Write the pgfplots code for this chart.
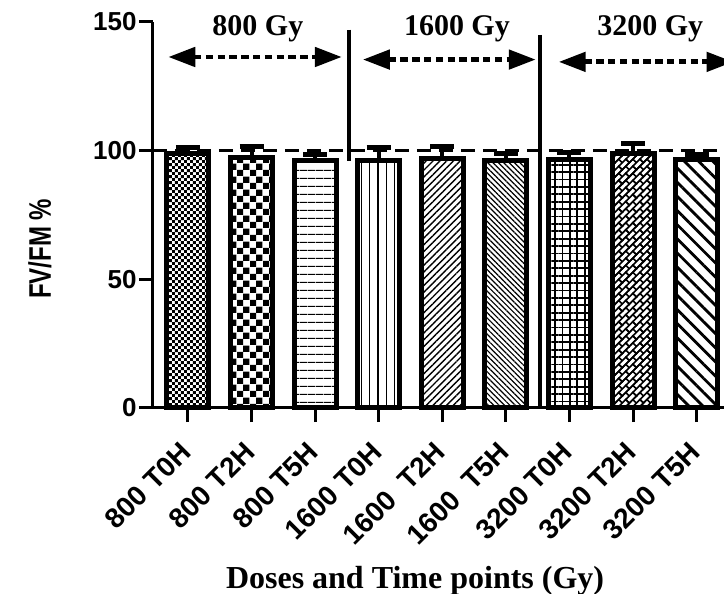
\documentclass[border=0pt]{standalone}
\usepackage{fontspec}
\setmainfont{Liberation Serif}
\newfontfamily\arial{Liberation Sans}
\usepackage{graphicx}
\usepackage{pgfplots}
\pgfplotsset{compat=1.18}
\usetikzlibrary{patterns,patterns.meta,arrows.meta}

\pgfdeclarepatternformonly{finechecker}{\pgfpointorigin}{\pgfqpoint{3.2pt}{3.2pt}}{\pgfqpoint{3.2pt}{3.2pt}}{%
  \pgfpathrectangle{\pgfpointorigin}{\pgfqpoint{1.6pt}{1.6pt}}%
  \pgfpathrectangle{\pgfqpoint{1.6pt}{1.6pt}}{\pgfqpoint{1.6pt}{1.6pt}}%
  \pgfusepath{fill}}
\pgfdeclarepatternformonly{coarsechecker}{\pgfpointorigin}{\pgfqpoint{6.6pt}{6.6pt}}{\pgfqpoint{6.6pt}{6.6pt}}{%
  \pgfpathrectangle{\pgfpointorigin}{\pgfqpoint{3.3pt}{3.3pt}}%
  \pgfpathrectangle{\pgfqpoint{3.3pt}{3.3pt}}{\pgfqpoint{3.3pt}{3.3pt}}%
  \pgfusepath{fill}}
\pgfdeclarepattern{
  name=diagbricks,
  type=uncolored,
  bottom left={\pgfpoint{-0.5pt}{-0.5pt}},
  top right={\pgfpoint{5.5pt}{5.5pt}},
  tile size={\pgfpoint{5pt}{5pt}},
  tile transformation={\pgftransformrotate{45}},
  code={
    \pgfsetlinewidth{0.8pt}
    \pgfpathmoveto{\pgfpoint{-0.5pt}{0pt}}\pgfpathlineto{\pgfpoint{5.5pt}{0pt}}
    \pgfpathmoveto{\pgfpoint{-0.5pt}{2.5pt}}\pgfpathlineto{\pgfpoint{5.5pt}{2.5pt}}
    \pgfpathmoveto{\pgfpoint{-0.5pt}{5pt}}\pgfpathlineto{\pgfpoint{5.5pt}{5pt}}
    \pgfpathmoveto{\pgfpoint{0pt}{0pt}}\pgfpathlineto{\pgfpoint{0pt}{2.5pt}}
    \pgfpathmoveto{\pgfpoint{5pt}{0pt}}\pgfpathlineto{\pgfpoint{5pt}{2.5pt}}
    \pgfpathmoveto{\pgfpoint{2.5pt}{2.5pt}}\pgfpathlineto{\pgfpoint{2.5pt}{5pt}}
    \pgfusepath{stroke}
  }
}

\pgfplotsset{
  mybar/.style={ybar, bar width=0.66, bar shift=0pt, draw=black, line width=2.5pt,
    error bars/y dir=plus, error bars/y explicit,
    error bars/error bar style={line width=2pt, solid, black},
    error bars/error mark options={rotate=90, line width=2.5pt, mark size=6pt, solid, black}},
}

\begin{document}
\begin{tikzpicture}
\useasboundingbox (-76.5pt,-93pt) rectangle (285.5pt,204pt);
\begin{axis}[
  at={(0,0)}, anchor=south west,
  scale only axis, width=285.5pt, height=193pt,
  xmin=-0.55, xmax=8.43, ymin=0, ymax=150,
  clip=false,
  axis x line=bottom, axis y line=left,
  axis line style={-, line width=1.5pt},
  xtick={0,...,8},
  xticklabels={800 T0H, 800 T2H, 800 T5H, 1600 T0H, 1600~~T2H, 1600~~T5H, 3200 T0H, 3200 T2H, 3200 T5H},
  ytick={0,50,100,150},
  tick align=outside, major tick length=7pt,
  tick style={line width=1.5pt, black},
  /pgf/number format/assume math mode=true,
  x tick label style={xshift=-4.5pt, yshift=-9pt, rotate=45, anchor=north east, inner sep=0pt, font=\arial\bfseries\fontsize{14}{14}\selectfont},
  y tick label style={inner sep=1pt, font=\arial\bfseries\fontsize{13}{13}\selectfont},
  xlabel={Doses and Time points (Gy)},
  every axis x label/.style={at={(rel axis cs:0.459,-0.447)}, anchor=center, font=\bfseries\fontsize{16}{16}\selectfont},
  ylabel={\scalebox{1}[1.3]{FV/FM \%}},
  every axis y label/.style={at={(rel axis cs:-0.198,0.412)}, rotate=90, anchor=center, font=\arial\bfseries\fontsize{12}{12}\selectfont},
]
\addplot[mybar, pattern=finechecker] coordinates {(0,99) +- (0,2.3)};
\addplot[mybar, pattern=coarsechecker] coordinates {(1,97.2) +- (0,4.6)};
\addplot[mybar, pattern={Lines[angle=0,distance=4pt,line width=0.6pt]}] coordinates {(2,96) +- (0,2.7)};
\addplot[mybar, pattern={Lines[angle=90,distance=4.2pt,line width=0.6pt]}] coordinates {(3,96) +- (0,5.4)};
\addplot[mybar, pattern={Lines[angle=45,distance=2.4pt,line width=0.7pt]}] coordinates {(4,97) +- (0,4.8)};
\addplot[mybar, pattern={Lines[angle=-45,distance=1.9pt,line width=0.6pt]}] coordinates {(5,96) +- (0,3)};
\addplot[mybar, pattern={Hatch[angle=0,distance=3.7pt,line width=0.9pt]}] coordinates {(6,96.5) +- (0,2.7)};
\addplot[mybar, pattern=diagbricks] coordinates {(7,99) +- (0,3.6)};
\addplot[mybar, pattern={Lines[angle=-45,distance=5pt,line width=1.4pt]}] coordinates {(8,96.5) +- (0,2.2)};

\draw[line width=1.5pt, dash pattern=on 7pt off 4pt] (axis cs:-0.55,100) -- (axis cs:8.43,100);
\draw[line width=2pt] (axis cs:2.53,147) -- (axis cs:2.53,96);
\draw[line width=2pt] (axis cs:5.53,145) -- (axis cs:5.53,0);

\draw[line width=2.4pt, dash pattern=on 3.7pt off 2.2pt, {Triangle[length=13.5pt,width=9.5pt]}-{Triangle[length=13.5pt,width=9.5pt]}] (axis cs:-0.31,136.4) -- (axis cs:2.42,136.4);
\draw[line width=2.4pt, dash pattern=on 3.7pt off 2.2pt, {Triangle[length=13.5pt,width=9.5pt]}-{Triangle[length=13.5pt,width=9.5pt]}] (axis cs:2.75,135.4) -- (axis cs:5.47,135.4);
\draw[line width=2.4pt, dash pattern=on 3.7pt off 2.2pt, {Triangle[length=13.5pt,width=9.5pt]}-{Triangle[length=13.5pt,width=9.5pt]}] (axis cs:5.83,134.5) -- (axis cs:8.58,134.5);

\node[font=\bfseries\fontsize{15}{15}\selectfont] at (axis cs:1.1,147.3) {800 Gy};
\node[font=\bfseries\fontsize{15}{15}\selectfont] at (axis cs:4.23,147.3) {1600 Gy};
\node[font=\bfseries\fontsize{15}{15}\selectfont] at (axis cs:7.27,147.3) {3200 Gy};
\end{axis}
\end{tikzpicture}
\end{document}
